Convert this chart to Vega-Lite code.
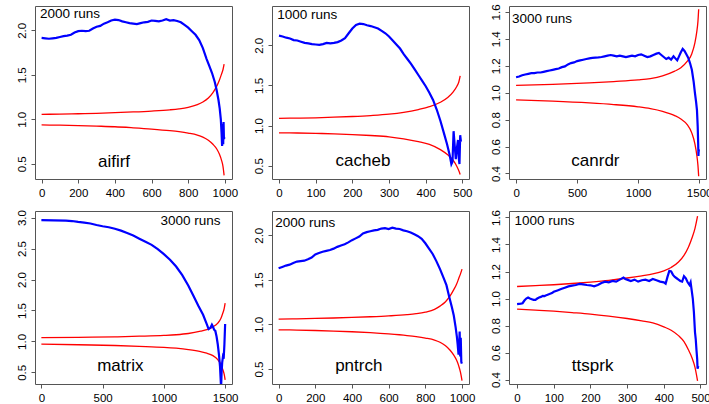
{
"$schema": "https://vega.github.io/schema/vega-lite/v6.json",
"background": "white",
"autosize": {"type": "pad"},
"padding": {"left": 15, "top": 3, "right": 0, "bottom": 0},
"config": {
  "view": {"stroke": "#555555", "strokeWidth": 1},
  "axis": {"grid": false, "domain": false, "tickColor": "#555555", "tickSize": 4, "labelFont": "Liberation Sans", "labelFontSize": 11.5, "labelColor": "#000000", "title": null, "labelOverlap": false, "labelFlush": false},
  "axisX": {"labelPadding": 4},
  "axisY": {"labelAngle": 270, "labelAlign": "center", "labelBaseline": "bottom", "labelPadding": 4}
},
"datasets": {
"lines": [
{"p":"aifirf","s":"obs","x":0,"y":1.915},{"p":"aifirf","s":"obs","x":20,"y":1.91},{"p":"aifirf","s":"obs","x":40,"y":1.905},{"p":"aifirf","s":"obs","x":60,"y":1.91},{"p":"aifirf","s":"obs","x":80,"y":1.915},{"p":"aifirf","s":"obs","x":100,"y":1.925},{"p":"aifirf","s":"obs","x":120,"y":1.935},{"p":"aifirf","s":"obs","x":140,"y":1.94},{"p":"aifirf","s":"obs","x":160,"y":1.95},{"p":"aifirf","s":"obs","x":180,"y":1.975},{"p":"aifirf","s":"obs","x":200,"y":1.99},{"p":"aifirf","s":"obs","x":220,"y":1.995},{"p":"aifirf","s":"obs","x":240,"y":1.99},{"p":"aifirf","s":"obs","x":260,"y":1.995},{"p":"aifirf","s":"obs","x":280,"y":2.02},{"p":"aifirf","s":"obs","x":300,"y":2.04},{"p":"aifirf","s":"obs","x":320,"y":2.05},{"p":"aifirf","s":"obs","x":340,"y":2.075},{"p":"aifirf","s":"obs","x":360,"y":2.09},{"p":"aifirf","s":"obs","x":380,"y":2.11},{"p":"aifirf","s":"obs","x":400,"y":2.12},{"p":"aifirf","s":"obs","x":420,"y":2.115},{"p":"aifirf","s":"obs","x":440,"y":2.1},{"p":"aifirf","s":"obs","x":460,"y":2.09},{"p":"aifirf","s":"obs","x":480,"y":2.08},{"p":"aifirf","s":"obs","x":500,"y":2.075},{"p":"aifirf","s":"obs","x":520,"y":2.07},{"p":"aifirf","s":"obs","x":540,"y":2.08},{"p":"aifirf","s":"obs","x":560,"y":2.09},{"p":"aifirf","s":"obs","x":580,"y":2.095},{"p":"aifirf","s":"obs","x":600,"y":2.11},{"p":"aifirf","s":"obs","x":620,"y":2.105},{"p":"aifirf","s":"obs","x":640,"y":2.1},{"p":"aifirf","s":"obs","x":660,"y":2.11},{"p":"aifirf","s":"obs","x":680,"y":2.125},{"p":"aifirf","s":"obs","x":700,"y":2.11},{"p":"aifirf","s":"obs","x":720,"y":2.115},{"p":"aifirf","s":"obs","x":740,"y":2.105},{"p":"aifirf","s":"obs","x":760,"y":2.09},{"p":"aifirf","s":"obs","x":780,"y":2.06},{"p":"aifirf","s":"obs","x":800,"y":2.03},{"p":"aifirf","s":"obs","x":820,"y":1.99},{"p":"aifirf","s":"obs","x":840,"y":1.95},{"p":"aifirf","s":"obs","x":860,"y":1.89},{"p":"aifirf","s":"obs","x":880,"y":1.8},{"p":"aifirf","s":"obs","x":900,"y":1.68},{"p":"aifirf","s":"obs","x":915,"y":1.6},{"p":"aifirf","s":"obs","x":930,"y":1.52},{"p":"aifirf","s":"obs","x":945,"y":1.42},{"p":"aifirf","s":"obs","x":955,"y":1.33},{"p":"aifirf","s":"obs","x":965,"y":1.22},{"p":"aifirf","s":"obs","x":972,"y":1.12},{"p":"aifirf","s":"obs","x":978,"y":1.0},{"p":"aifirf","s":"obs","x":982,"y":0.85},{"p":"aifirf","s":"obs","x":985,"y":0.7},{"p":"aifirf","s":"obs","x":987,"y":0.82},{"p":"aifirf","s":"obs","x":989,"y":0.95},{"p":"aifirf","s":"obs","x":991,"y":0.72},{"p":"aifirf","s":"obs","x":993,"y":0.97},{"p":"aifirf","s":"obs","x":995,"y":0.78},{"p":"aifirf","s":"obs","x":998,"y":0.8},
{"p":"aifirf","s":"up","x":0,"y":1.056},{"p":"aifirf","s":"up","x":100,"y":1.059},{"p":"aifirf","s":"up","x":200,"y":1.063},{"p":"aifirf","s":"up","x":300,"y":1.068},{"p":"aifirf","s":"up","x":400,"y":1.075},{"p":"aifirf","s":"up","x":500,"y":1.083},{"p":"aifirf","s":"up","x":600,"y":1.093},{"p":"aifirf","s":"up","x":700,"y":1.107},{"p":"aifirf","s":"up","x":750,"y":1.118},{"p":"aifirf","s":"up","x":800,"y":1.135},{"p":"aifirf","s":"up","x":850,"y":1.165},{"p":"aifirf","s":"up","x":880,"y":1.195},{"p":"aifirf","s":"up","x":910,"y":1.24},{"p":"aifirf","s":"up","x":935,"y":1.3},{"p":"aifirf","s":"up","x":955,"y":1.37},{"p":"aifirf","s":"up","x":970,"y":1.44},{"p":"aifirf","s":"up","x":982,"y":1.51},{"p":"aifirf","s":"up","x":990,"y":1.56},{"p":"aifirf","s":"up","x":996,"y":1.62},
{"p":"aifirf","s":"lo","x":0,"y":0.937},{"p":"aifirf","s":"lo","x":100,"y":0.934},{"p":"aifirf","s":"lo","x":200,"y":0.93},{"p":"aifirf","s":"lo","x":300,"y":0.924},{"p":"aifirf","s":"lo","x":400,"y":0.917},{"p":"aifirf","s":"lo","x":500,"y":0.905},{"p":"aifirf","s":"lo","x":600,"y":0.891},{"p":"aifirf","s":"lo","x":700,"y":0.873},{"p":"aifirf","s":"lo","x":750,"y":0.861},{"p":"aifirf","s":"lo","x":800,"y":0.845},{"p":"aifirf","s":"lo","x":850,"y":0.823},{"p":"aifirf","s":"lo","x":880,"y":0.8},{"p":"aifirf","s":"lo","x":910,"y":0.765},{"p":"aifirf","s":"lo","x":935,"y":0.72},{"p":"aifirf","s":"lo","x":955,"y":0.67},{"p":"aifirf","s":"lo","x":970,"y":0.61},{"p":"aifirf","s":"lo","x":982,"y":0.54},{"p":"aifirf","s":"lo","x":990,"y":0.47},{"p":"aifirf","s":"lo","x":996,"y":0.37},

{"p":"cacheb","s":"obs","x":0,"y":2.12},{"p":"cacheb","s":"obs","x":10,"y":2.11},{"p":"cacheb","s":"obs","x":20,"y":2.095},{"p":"cacheb","s":"obs","x":30,"y":2.085},{"p":"cacheb","s":"obs","x":40,"y":2.065},{"p":"cacheb","s":"obs","x":50,"y":2.06},{"p":"cacheb","s":"obs","x":60,"y":2.045},{"p":"cacheb","s":"obs","x":70,"y":2.03},{"p":"cacheb","s":"obs","x":80,"y":2.025},{"p":"cacheb","s":"obs","x":90,"y":2.015},{"p":"cacheb","s":"obs","x":100,"y":2.01},{"p":"cacheb","s":"obs","x":110,"y":2.005},{"p":"cacheb","s":"obs","x":120,"y":2.015},{"p":"cacheb","s":"obs","x":130,"y":2.03},{"p":"cacheb","s":"obs","x":140,"y":2.025},{"p":"cacheb","s":"obs","x":150,"y":2.03},{"p":"cacheb","s":"obs","x":160,"y":2.04},{"p":"cacheb","s":"obs","x":170,"y":2.06},{"p":"cacheb","s":"obs","x":180,"y":2.09},{"p":"cacheb","s":"obs","x":190,"y":2.15},{"p":"cacheb","s":"obs","x":200,"y":2.21},{"p":"cacheb","s":"obs","x":210,"y":2.255},{"p":"cacheb","s":"obs","x":220,"y":2.27},{"p":"cacheb","s":"obs","x":230,"y":2.265},{"p":"cacheb","s":"obs","x":240,"y":2.25},{"p":"cacheb","s":"obs","x":250,"y":2.24},{"p":"cacheb","s":"obs","x":260,"y":2.225},{"p":"cacheb","s":"obs","x":270,"y":2.21},{"p":"cacheb","s":"obs","x":280,"y":2.18},{"p":"cacheb","s":"obs","x":290,"y":2.15},{"p":"cacheb","s":"obs","x":300,"y":2.11},{"p":"cacheb","s":"obs","x":310,"y":2.06},{"p":"cacheb","s":"obs","x":320,"y":2.01},{"p":"cacheb","s":"obs","x":330,"y":1.96},{"p":"cacheb","s":"obs","x":340,"y":1.89},{"p":"cacheb","s":"obs","x":350,"y":1.83},{"p":"cacheb","s":"obs","x":360,"y":1.77},{"p":"cacheb","s":"obs","x":370,"y":1.7},{"p":"cacheb","s":"obs","x":380,"y":1.63},{"p":"cacheb","s":"obs","x":390,"y":1.56},{"p":"cacheb","s":"obs","x":400,"y":1.49},{"p":"cacheb","s":"obs","x":410,"y":1.41},{"p":"cacheb","s":"obs","x":420,"y":1.32},{"p":"cacheb","s":"obs","x":430,"y":1.2},{"p":"cacheb","s":"obs","x":440,"y":1.06},{"p":"cacheb","s":"obs","x":450,"y":0.9},{"p":"cacheb","s":"obs","x":458,"y":0.77},{"p":"cacheb","s":"obs","x":465,"y":0.64},{"p":"cacheb","s":"obs","x":470,"y":0.52},{"p":"cacheb","s":"obs","x":473,"y":0.55},{"p":"cacheb","s":"obs","x":476,"y":0.93},{"p":"cacheb","s":"obs","x":479,"y":0.75},{"p":"cacheb","s":"obs","x":482,"y":0.58},{"p":"cacheb","s":"obs","x":485,"y":0.72},{"p":"cacheb","s":"obs","x":488,"y":0.82},{"p":"cacheb","s":"obs","x":490,"y":0.6},{"p":"cacheb","s":"obs","x":492,"y":0.52},{"p":"cacheb","s":"obs","x":494,"y":0.88},{"p":"cacheb","s":"obs","x":496,"y":0.8},
{"p":"cacheb","s":"up","x":0,"y":1.09},{"p":"cacheb","s":"up","x":50,"y":1.093},{"p":"cacheb","s":"up","x":100,"y":1.097},{"p":"cacheb","s":"up","x":150,"y":1.104},{"p":"cacheb","s":"up","x":200,"y":1.113},{"p":"cacheb","s":"up","x":250,"y":1.125},{"p":"cacheb","s":"up","x":300,"y":1.142},{"p":"cacheb","s":"up","x":340,"y":1.165},{"p":"cacheb","s":"up","x":380,"y":1.2},{"p":"cacheb","s":"up","x":410,"y":1.235},{"p":"cacheb","s":"up","x":440,"y":1.29},{"p":"cacheb","s":"up","x":460,"y":1.35},{"p":"cacheb","s":"up","x":475,"y":1.42},{"p":"cacheb","s":"up","x":485,"y":1.49},{"p":"cacheb","s":"up","x":490,"y":1.54},{"p":"cacheb","s":"up","x":494,"y":1.62},
{"p":"cacheb","s":"lo","x":0,"y":0.91},{"p":"cacheb","s":"lo","x":50,"y":0.907},{"p":"cacheb","s":"lo","x":100,"y":0.903},{"p":"cacheb","s":"lo","x":150,"y":0.897},{"p":"cacheb","s":"lo","x":200,"y":0.888},{"p":"cacheb","s":"lo","x":250,"y":0.876},{"p":"cacheb","s":"lo","x":300,"y":0.86},{"p":"cacheb","s":"lo","x":340,"y":0.835},{"p":"cacheb","s":"lo","x":380,"y":0.8},{"p":"cacheb","s":"lo","x":410,"y":0.765},{"p":"cacheb","s":"lo","x":440,"y":0.7},{"p":"cacheb","s":"lo","x":460,"y":0.635},{"p":"cacheb","s":"lo","x":475,"y":0.565},{"p":"cacheb","s":"lo","x":485,"y":0.49},{"p":"cacheb","s":"lo","x":490,"y":0.44},{"p":"cacheb","s":"lo","x":494,"y":0.39},

{"p":"canrdr","s":"obs","x":0,"y":1.115},{"p":"canrdr","s":"obs","x":25,"y":1.12},{"p":"canrdr","s":"obs","x":50,"y":1.13},{"p":"canrdr","s":"obs","x":75,"y":1.135},{"p":"canrdr","s":"obs","x":100,"y":1.14},{"p":"canrdr","s":"obs","x":125,"y":1.145},{"p":"canrdr","s":"obs","x":150,"y":1.145},{"p":"canrdr","s":"obs","x":175,"y":1.15},{"p":"canrdr","s":"obs","x":200,"y":1.15},{"p":"canrdr","s":"obs","x":225,"y":1.155},{"p":"canrdr","s":"obs","x":250,"y":1.16},{"p":"canrdr","s":"obs","x":275,"y":1.165},{"p":"canrdr","s":"obs","x":300,"y":1.17},{"p":"canrdr","s":"obs","x":325,"y":1.175},{"p":"canrdr","s":"obs","x":350,"y":1.18},{"p":"canrdr","s":"obs","x":375,"y":1.19},{"p":"canrdr","s":"obs","x":400,"y":1.195},{"p":"canrdr","s":"obs","x":425,"y":1.21},{"p":"canrdr","s":"obs","x":450,"y":1.22},{"p":"canrdr","s":"obs","x":475,"y":1.225},{"p":"canrdr","s":"obs","x":500,"y":1.235},{"p":"canrdr","s":"obs","x":525,"y":1.24},{"p":"canrdr","s":"obs","x":550,"y":1.245},{"p":"canrdr","s":"obs","x":575,"y":1.25},{"p":"canrdr","s":"obs","x":600,"y":1.255},{"p":"canrdr","s":"obs","x":625,"y":1.258},{"p":"canrdr","s":"obs","x":650,"y":1.26},{"p":"canrdr","s":"obs","x":675,"y":1.262},{"p":"canrdr","s":"obs","x":700,"y":1.265},{"p":"canrdr","s":"obs","x":725,"y":1.27},{"p":"canrdr","s":"obs","x":750,"y":1.275},{"p":"canrdr","s":"obs","x":775,"y":1.28},{"p":"canrdr","s":"obs","x":800,"y":1.275},{"p":"canrdr","s":"obs","x":825,"y":1.27},{"p":"canrdr","s":"obs","x":850,"y":1.275},{"p":"canrdr","s":"obs","x":875,"y":1.27},{"p":"canrdr","s":"obs","x":900,"y":1.265},{"p":"canrdr","s":"obs","x":925,"y":1.27},{"p":"canrdr","s":"obs","x":950,"y":1.275},{"p":"canrdr","s":"obs","x":975,"y":1.27},{"p":"canrdr","s":"obs","x":1000,"y":1.28},{"p":"canrdr","s":"obs","x":1025,"y":1.285},{"p":"canrdr","s":"obs","x":1050,"y":1.275},{"p":"canrdr","s":"obs","x":1075,"y":1.265},{"p":"canrdr","s":"obs","x":1100,"y":1.27},{"p":"canrdr","s":"obs","x":1125,"y":1.28},{"p":"canrdr","s":"obs","x":1150,"y":1.29},{"p":"canrdr","s":"obs","x":1170,"y":1.295},{"p":"canrdr","s":"obs","x":1190,"y":1.28},{"p":"canrdr","s":"obs","x":1210,"y":1.265},{"p":"canrdr","s":"obs","x":1230,"y":1.25},{"p":"canrdr","s":"obs","x":1250,"y":1.26},{"p":"canrdr","s":"obs","x":1270,"y":1.245},{"p":"canrdr","s":"obs","x":1290,"y":1.27},{"p":"canrdr","s":"obs","x":1305,"y":1.255},{"p":"canrdr","s":"obs","x":1320,"y":1.24},{"p":"canrdr","s":"obs","x":1335,"y":1.27},{"p":"canrdr","s":"obs","x":1350,"y":1.3},{"p":"canrdr","s":"obs","x":1365,"y":1.325},{"p":"canrdr","s":"obs","x":1380,"y":1.31},{"p":"canrdr","s":"obs","x":1395,"y":1.285},{"p":"canrdr","s":"obs","x":1410,"y":1.26},{"p":"canrdr","s":"obs","x":1425,"y":1.22},{"p":"canrdr","s":"obs","x":1440,"y":1.17},{"p":"canrdr","s":"obs","x":1455,"y":1.08},{"p":"canrdr","s":"obs","x":1465,"y":1.0},{"p":"canrdr","s":"obs","x":1475,"y":0.93},{"p":"canrdr","s":"obs","x":1482,"y":0.87},{"p":"canrdr","s":"obs","x":1488,"y":0.75},{"p":"canrdr","s":"obs","x":1492,"y":0.62},{"p":"canrdr","s":"obs","x":1494,"y":0.53},{"p":"canrdr","s":"obs","x":1496,"y":0.58},{"p":"canrdr","s":"obs","x":1498,"y":0.56},
{"p":"canrdr","s":"up","x":0,"y":1.054},{"p":"canrdr","s":"up","x":300,"y":1.062},{"p":"canrdr","s":"up","x":600,"y":1.073},{"p":"canrdr","s":"up","x":800,"y":1.083},{"p":"canrdr","s":"up","x":1000,"y":1.095},{"p":"canrdr","s":"up","x":1100,"y":1.105},{"p":"canrdr","s":"up","x":1200,"y":1.125},{"p":"canrdr","s":"up","x":1300,"y":1.16},{"p":"canrdr","s":"up","x":1350,"y":1.185},{"p":"canrdr","s":"up","x":1400,"y":1.23},{"p":"canrdr","s":"up","x":1440,"y":1.29},{"p":"canrdr","s":"up","x":1465,"y":1.37},{"p":"canrdr","s":"up","x":1480,"y":1.45},{"p":"canrdr","s":"up","x":1490,"y":1.53},{"p":"canrdr","s":"up","x":1496,"y":1.62},
{"p":"canrdr","s":"lo","x":0,"y":0.946},{"p":"canrdr","s":"lo","x":300,"y":0.937},{"p":"canrdr","s":"lo","x":600,"y":0.924},{"p":"canrdr","s":"lo","x":800,"y":0.912},{"p":"canrdr","s":"lo","x":1000,"y":0.895},{"p":"canrdr","s":"lo","x":1100,"y":0.882},{"p":"canrdr","s":"lo","x":1200,"y":0.862},{"p":"canrdr","s":"lo","x":1300,"y":0.83},{"p":"canrdr","s":"lo","x":1350,"y":0.805},{"p":"canrdr","s":"lo","x":1400,"y":0.765},{"p":"canrdr","s":"lo","x":1440,"y":0.7},{"p":"canrdr","s":"lo","x":1465,"y":0.62},{"p":"canrdr","s":"lo","x":1480,"y":0.54},{"p":"canrdr","s":"lo","x":1490,"y":0.46},{"p":"canrdr","s":"lo","x":1496,"y":0.38},

{"p":"matrix","s":"obs","x":0,"y":2.96},{"p":"matrix","s":"obs","x":100,"y":2.955},{"p":"matrix","s":"obs","x":200,"y":2.95},{"p":"matrix","s":"obs","x":250,"y":2.945},{"p":"matrix","s":"obs","x":300,"y":2.93},{"p":"matrix","s":"obs","x":350,"y":2.92},{"p":"matrix","s":"obs","x":400,"y":2.905},{"p":"matrix","s":"obs","x":450,"y":2.88},{"p":"matrix","s":"obs","x":500,"y":2.86},{"p":"matrix","s":"obs","x":550,"y":2.845},{"p":"matrix","s":"obs","x":600,"y":2.82},{"p":"matrix","s":"obs","x":650,"y":2.79},{"p":"matrix","s":"obs","x":700,"y":2.75},{"p":"matrix","s":"obs","x":750,"y":2.71},{"p":"matrix","s":"obs","x":800,"y":2.66},{"p":"matrix","s":"obs","x":850,"y":2.61},{"p":"matrix","s":"obs","x":900,"y":2.56},{"p":"matrix","s":"obs","x":950,"y":2.49},{"p":"matrix","s":"obs","x":1000,"y":2.41},{"p":"matrix","s":"obs","x":1050,"y":2.32},{"p":"matrix","s":"obs","x":1100,"y":2.21},{"p":"matrix","s":"obs","x":1150,"y":2.07},{"p":"matrix","s":"obs","x":1200,"y":1.9},{"p":"matrix","s":"obs","x":1240,"y":1.74},{"p":"matrix","s":"obs","x":1280,"y":1.58},{"p":"matrix","s":"obs","x":1320,"y":1.43},{"p":"matrix","s":"obs","x":1350,"y":1.28},{"p":"matrix","s":"obs","x":1365,"y":1.2},{"p":"matrix","s":"obs","x":1380,"y":1.22},{"p":"matrix","s":"obs","x":1392,"y":1.27},{"p":"matrix","s":"obs","x":1400,"y":1.24},{"p":"matrix","s":"obs","x":1410,"y":1.19},{"p":"matrix","s":"obs","x":1420,"y":1.17},{"p":"matrix","s":"obs","x":1430,"y":1.08},{"p":"matrix","s":"obs","x":1440,"y":0.95},{"p":"matrix","s":"obs","x":1450,"y":0.78},{"p":"matrix","s":"obs","x":1458,"y":0.6},{"p":"matrix","s":"obs","x":1463,"y":0.4},{"p":"matrix","s":"obs","x":1467,"y":0.25},{"p":"matrix","s":"obs","x":1471,"y":0.5},{"p":"matrix","s":"obs","x":1476,"y":0.66},{"p":"matrix","s":"obs","x":1482,"y":0.75},{"p":"matrix","s":"obs","x":1488,"y":0.72},{"p":"matrix","s":"obs","x":1494,"y":0.95},{"p":"matrix","s":"obs","x":1500,"y":1.28},
{"p":"matrix","s":"up","x":0,"y":1.06},{"p":"matrix","s":"up","x":300,"y":1.065},{"p":"matrix","s":"up","x":600,"y":1.074},{"p":"matrix","s":"up","x":800,"y":1.084},{"p":"matrix","s":"up","x":1000,"y":1.097},{"p":"matrix","s":"up","x":1100,"y":1.108},{"p":"matrix","s":"up","x":1200,"y":1.128},{"p":"matrix","s":"up","x":1300,"y":1.165},{"p":"matrix","s":"up","x":1350,"y":1.19},{"p":"matrix","s":"up","x":1400,"y":1.235},{"p":"matrix","s":"up","x":1440,"y":1.295},{"p":"matrix","s":"up","x":1465,"y":1.37},{"p":"matrix","s":"up","x":1480,"y":1.45},{"p":"matrix","s":"up","x":1492,"y":1.53},{"p":"matrix","s":"up","x":1500,"y":1.62},
{"p":"matrix","s":"lo","x":0,"y":0.955},{"p":"matrix","s":"lo","x":300,"y":0.946},{"p":"matrix","s":"lo","x":600,"y":0.934},{"p":"matrix","s":"lo","x":800,"y":0.921},{"p":"matrix","s":"lo","x":1000,"y":0.905},{"p":"matrix","s":"lo","x":1100,"y":0.89},{"p":"matrix","s":"lo","x":1200,"y":0.868},{"p":"matrix","s":"lo","x":1300,"y":0.835},{"p":"matrix","s":"lo","x":1350,"y":0.81},{"p":"matrix","s":"lo","x":1400,"y":0.77},{"p":"matrix","s":"lo","x":1440,"y":0.705},{"p":"matrix","s":"lo","x":1465,"y":0.63},{"p":"matrix","s":"lo","x":1480,"y":0.55},{"p":"matrix","s":"lo","x":1492,"y":0.47},{"p":"matrix","s":"lo","x":1500,"y":0.38},

{"p":"pntrch","s":"obs","x":0,"y":1.63},{"p":"pntrch","s":"obs","x":20,"y":1.645},{"p":"pntrch","s":"obs","x":40,"y":1.66},{"p":"pntrch","s":"obs","x":60,"y":1.67},{"p":"pntrch","s":"obs","x":80,"y":1.69},{"p":"pntrch","s":"obs","x":100,"y":1.705},{"p":"pntrch","s":"obs","x":120,"y":1.71},{"p":"pntrch","s":"obs","x":140,"y":1.715},{"p":"pntrch","s":"obs","x":160,"y":1.73},{"p":"pntrch","s":"obs","x":180,"y":1.75},{"p":"pntrch","s":"obs","x":200,"y":1.785},{"p":"pntrch","s":"obs","x":220,"y":1.8},{"p":"pntrch","s":"obs","x":240,"y":1.815},{"p":"pntrch","s":"obs","x":260,"y":1.825},{"p":"pntrch","s":"obs","x":280,"y":1.835},{"p":"pntrch","s":"obs","x":300,"y":1.85},{"p":"pntrch","s":"obs","x":320,"y":1.87},{"p":"pntrch","s":"obs","x":340,"y":1.885},{"p":"pntrch","s":"obs","x":360,"y":1.9},{"p":"pntrch","s":"obs","x":380,"y":1.92},{"p":"pntrch","s":"obs","x":400,"y":1.945},{"p":"pntrch","s":"obs","x":420,"y":1.965},{"p":"pntrch","s":"obs","x":440,"y":1.985},{"p":"pntrch","s":"obs","x":460,"y":2.02},{"p":"pntrch","s":"obs","x":480,"y":2.035},{"p":"pntrch","s":"obs","x":500,"y":2.045},{"p":"pntrch","s":"obs","x":520,"y":2.055},{"p":"pntrch","s":"obs","x":540,"y":2.06},{"p":"pntrch","s":"obs","x":560,"y":2.075},{"p":"pntrch","s":"obs","x":580,"y":2.08},{"p":"pntrch","s":"obs","x":600,"y":2.07},{"p":"pntrch","s":"obs","x":620,"y":2.085},{"p":"pntrch","s":"obs","x":640,"y":2.075},{"p":"pntrch","s":"obs","x":660,"y":2.07},{"p":"pntrch","s":"obs","x":680,"y":2.055},{"p":"pntrch","s":"obs","x":700,"y":2.045},{"p":"pntrch","s":"obs","x":720,"y":2.03},{"p":"pntrch","s":"obs","x":740,"y":2.01},{"p":"pntrch","s":"obs","x":760,"y":1.99},{"p":"pntrch","s":"obs","x":780,"y":1.96},{"p":"pntrch","s":"obs","x":800,"y":1.91},{"p":"pntrch","s":"obs","x":820,"y":1.85},{"p":"pntrch","s":"obs","x":840,"y":1.79},{"p":"pntrch","s":"obs","x":860,"y":1.71},{"p":"pntrch","s":"obs","x":880,"y":1.62},{"p":"pntrch","s":"obs","x":900,"y":1.52},{"p":"pntrch","s":"obs","x":915,"y":1.44},{"p":"pntrch","s":"obs","x":930,"y":1.31},{"p":"pntrch","s":"obs","x":945,"y":1.19},{"p":"pntrch","s":"obs","x":955,"y":1.1},{"p":"pntrch","s":"obs","x":965,"y":0.97},{"p":"pntrch","s":"obs","x":972,"y":0.86},{"p":"pntrch","s":"obs","x":976,"y":0.78},{"p":"pntrch","s":"obs","x":981,"y":0.66},{"p":"pntrch","s":"obs","x":984,"y":0.73},{"p":"pntrch","s":"obs","x":987,"y":0.92},{"p":"pntrch","s":"obs","x":990,"y":0.64},{"p":"pntrch","s":"obs","x":993,"y":0.85},{"p":"pntrch","s":"obs","x":996,"y":0.58},{"p":"pntrch","s":"obs","x":999,"y":0.56},
{"p":"pntrch","s":"up","x":0,"y":1.06},{"p":"pntrch","s":"up","x":100,"y":1.063},{"p":"pntrch","s":"up","x":200,"y":1.067},{"p":"pntrch","s":"up","x":300,"y":1.072},{"p":"pntrch","s":"up","x":400,"y":1.078},{"p":"pntrch","s":"up","x":500,"y":1.086},{"p":"pntrch","s":"up","x":600,"y":1.096},{"p":"pntrch","s":"up","x":700,"y":1.11},{"p":"pntrch","s":"up","x":750,"y":1.121},{"p":"pntrch","s":"up","x":800,"y":1.138},{"p":"pntrch","s":"up","x":850,"y":1.168},{"p":"pntrch","s":"up","x":880,"y":1.205},{"p":"pntrch","s":"up","x":910,"y":1.255},{"p":"pntrch","s":"up","x":935,"y":1.32},{"p":"pntrch","s":"up","x":955,"y":1.39},{"p":"pntrch","s":"up","x":970,"y":1.45},{"p":"pntrch","s":"up","x":982,"y":1.515},{"p":"pntrch","s":"up","x":992,"y":1.57},{"p":"pntrch","s":"up","x":1000,"y":1.62},
{"p":"pntrch","s":"lo","x":0,"y":0.94},{"p":"pntrch","s":"lo","x":100,"y":0.937},{"p":"pntrch","s":"lo","x":200,"y":0.932},{"p":"pntrch","s":"lo","x":300,"y":0.926},{"p":"pntrch","s":"lo","x":400,"y":0.918},{"p":"pntrch","s":"lo","x":500,"y":0.907},{"p":"pntrch","s":"lo","x":600,"y":0.893},{"p":"pntrch","s":"lo","x":700,"y":0.875},{"p":"pntrch","s":"lo","x":750,"y":0.863},{"p":"pntrch","s":"lo","x":800,"y":0.847},{"p":"pntrch","s":"lo","x":850,"y":0.825},{"p":"pntrch","s":"lo","x":880,"y":0.8},{"p":"pntrch","s":"lo","x":910,"y":0.76},{"p":"pntrch","s":"lo","x":935,"y":0.71},{"p":"pntrch","s":"lo","x":955,"y":0.655},{"p":"pntrch","s":"lo","x":970,"y":0.6},{"p":"pntrch","s":"lo","x":982,"y":0.535},{"p":"pntrch","s":"lo","x":992,"y":0.46},{"p":"pntrch","s":"lo","x":1000,"y":0.37},

{"p":"ttsprk","s":"obs","x":0,"y":0.958},{"p":"ttsprk","s":"obs","x":5,"y":0.96},{"p":"ttsprk","s":"obs","x":10,"y":0.962},{"p":"ttsprk","s":"obs","x":15,"y":0.965},{"p":"ttsprk","s":"obs","x":20,"y":0.985},{"p":"ttsprk","s":"obs","x":25,"y":1.0},{"p":"ttsprk","s":"obs","x":30,"y":1.007},{"p":"ttsprk","s":"obs","x":35,"y":1.0},{"p":"ttsprk","s":"obs","x":40,"y":0.995},{"p":"ttsprk","s":"obs","x":45,"y":0.99},{"p":"ttsprk","s":"obs","x":50,"y":0.99},{"p":"ttsprk","s":"obs","x":55,"y":1.0},{"p":"ttsprk","s":"obs","x":60,"y":1.008},{"p":"ttsprk","s":"obs","x":65,"y":1.012},{"p":"ttsprk","s":"obs","x":70,"y":1.02},{"p":"ttsprk","s":"obs","x":75,"y":1.018},{"p":"ttsprk","s":"obs","x":80,"y":1.025},{"p":"ttsprk","s":"obs","x":85,"y":1.03},{"p":"ttsprk","s":"obs","x":90,"y":1.035},{"p":"ttsprk","s":"obs","x":95,"y":1.04},{"p":"ttsprk","s":"obs","x":100,"y":1.05},{"p":"ttsprk","s":"obs","x":110,"y":1.06},{"p":"ttsprk","s":"obs","x":120,"y":1.07},{"p":"ttsprk","s":"obs","x":130,"y":1.08},{"p":"ttsprk","s":"obs","x":140,"y":1.09},{"p":"ttsprk","s":"obs","x":150,"y":1.095},{"p":"ttsprk","s":"obs","x":160,"y":1.1},{"p":"ttsprk","s":"obs","x":170,"y":1.108},{"p":"ttsprk","s":"obs","x":180,"y":1.105},{"p":"ttsprk","s":"obs","x":190,"y":1.1},{"p":"ttsprk","s":"obs","x":200,"y":1.098},{"p":"ttsprk","s":"obs","x":210,"y":1.09},{"p":"ttsprk","s":"obs","x":220,"y":1.1},{"p":"ttsprk","s":"obs","x":230,"y":1.115},{"p":"ttsprk","s":"obs","x":240,"y":1.125},{"p":"ttsprk","s":"obs","x":250,"y":1.12},{"p":"ttsprk","s":"obs","x":260,"y":1.13},{"p":"ttsprk","s":"obs","x":270,"y":1.125},{"p":"ttsprk","s":"obs","x":280,"y":1.14},{"p":"ttsprk","s":"obs","x":290,"y":1.155},{"p":"ttsprk","s":"obs","x":295,"y":1.145},{"p":"ttsprk","s":"obs","x":300,"y":1.14},{"p":"ttsprk","s":"obs","x":310,"y":1.13},{"p":"ttsprk","s":"obs","x":320,"y":1.14},{"p":"ttsprk","s":"obs","x":330,"y":1.125},{"p":"ttsprk","s":"obs","x":340,"y":1.135},{"p":"ttsprk","s":"obs","x":350,"y":1.14},{"p":"ttsprk","s":"obs","x":360,"y":1.13},{"p":"ttsprk","s":"obs","x":370,"y":1.145},{"p":"ttsprk","s":"obs","x":380,"y":1.135},{"p":"ttsprk","s":"obs","x":390,"y":1.125},{"p":"ttsprk","s":"obs","x":400,"y":1.12},{"p":"ttsprk","s":"obs","x":405,"y":1.11},{"p":"ttsprk","s":"obs","x":410,"y":1.16},{"p":"ttsprk","s":"obs","x":415,"y":1.205},{"p":"ttsprk","s":"obs","x":420,"y":1.2},{"p":"ttsprk","s":"obs","x":425,"y":1.175},{"p":"ttsprk","s":"obs","x":430,"y":1.16},{"p":"ttsprk","s":"obs","x":435,"y":1.15},{"p":"ttsprk","s":"obs","x":440,"y":1.14},{"p":"ttsprk","s":"obs","x":445,"y":1.13},{"p":"ttsprk","s":"obs","x":450,"y":1.125},{"p":"ttsprk","s":"obs","x":455,"y":1.165},{"p":"ttsprk","s":"obs","x":460,"y":1.15},{"p":"ttsprk","s":"obs","x":465,"y":1.12},{"p":"ttsprk","s":"obs","x":470,"y":1.1},{"p":"ttsprk","s":"obs","x":473,"y":1.12},{"p":"ttsprk","s":"obs","x":476,"y":1.06},{"p":"ttsprk","s":"obs","x":479,"y":1.0},{"p":"ttsprk","s":"obs","x":482,"y":0.9},{"p":"ttsprk","s":"obs","x":485,"y":0.75},{"p":"ttsprk","s":"obs","x":487,"y":0.7},{"p":"ttsprk","s":"obs","x":489,"y":0.62},{"p":"ttsprk","s":"obs","x":491,"y":0.55},{"p":"ttsprk","s":"obs","x":492,"y":0.48},{"p":"ttsprk","s":"obs","x":494,"y":0.5},
{"p":"ttsprk","s":"up","x":0,"y":1.089},{"p":"ttsprk","s":"up","x":50,"y":1.095},{"p":"ttsprk","s":"up","x":100,"y":1.102},{"p":"ttsprk","s":"up","x":150,"y":1.111},{"p":"ttsprk","s":"up","x":200,"y":1.122},{"p":"ttsprk","s":"up","x":250,"y":1.135},{"p":"ttsprk","s":"up","x":300,"y":1.152},{"p":"ttsprk","s":"up","x":340,"y":1.168},{"p":"ttsprk","s":"up","x":370,"y":1.182},{"p":"ttsprk","s":"up","x":400,"y":1.205},{"p":"ttsprk","s":"up","x":420,"y":1.23},{"p":"ttsprk","s":"up","x":440,"y":1.27},{"p":"ttsprk","s":"up","x":455,"y":1.32},{"p":"ttsprk","s":"up","x":467,"y":1.38},{"p":"ttsprk","s":"up","x":477,"y":1.45},{"p":"ttsprk","s":"up","x":485,"y":1.52},{"p":"ttsprk","s":"up","x":492,"y":1.61},
{"p":"ttsprk","s":"lo","x":0,"y":0.921},{"p":"ttsprk","s":"lo","x":50,"y":0.914},{"p":"ttsprk","s":"lo","x":100,"y":0.906},{"p":"ttsprk","s":"lo","x":150,"y":0.896},{"p":"ttsprk","s":"lo","x":200,"y":0.885},{"p":"ttsprk","s":"lo","x":250,"y":0.87},{"p":"ttsprk","s":"lo","x":300,"y":0.852},{"p":"ttsprk","s":"lo","x":340,"y":0.835},{"p":"ttsprk","s":"lo","x":370,"y":0.82},{"p":"ttsprk","s":"lo","x":400,"y":0.79},{"p":"ttsprk","s":"lo","x":420,"y":0.765},{"p":"ttsprk","s":"lo","x":440,"y":0.725},{"p":"ttsprk","s":"lo","x":455,"y":0.68},{"p":"ttsprk","s":"lo","x":467,"y":0.62},{"p":"ttsprk","s":"lo","x":477,"y":0.56},{"p":"ttsprk","s":"lo","x":485,"y":0.49},{"p":"ttsprk","s":"lo","x":492,"y":0.39}
],
"labels": [
{"p":"aifirf","k":"runs","t":"2000 runs","x":-9,"y":2.135},{"p":"aifirf","k":"name","t":"aifirf","x":395,"y":0.468},
{"p":"cacheb","k":"runs","t":"1000 runs","x":-5,"y":2.324},{"p":"cacheb","k":"name","t":"cacheb","x":229,"y":0.496},
{"p":"canrdr","k":"runs","t":"3000 runs","x":-33,"y":1.52},{"p":"canrdr","k":"name","t":"canrdr","x":650,"y":0.455},
{"p":"matrix","k":"runs","t":"3000 runs","x":973,"y":2.88},{"p":"matrix","k":"name","t":"matrix","x":644,"y":0.527},
{"p":"pntrch","k":"runs","t":"2000 runs","x":-18,"y":2.093},{"p":"pntrch","k":"name","t":"pntrch","x":437,"y":0.481},
{"p":"ttsprk","k":"runs","t":"1000 runs","x":-7,"y":1.544},{"p":"ttsprk","k":"name","t":"ttsprk","x":206,"y":0.466}
]
},
"columns": 3,
"spacing": {"row": 32, "column": 40},
"bounds": "flush",
"concat": [
 {"width": 197, "height": 173,
  "encoding": {"x": {"field": "x", "type": "quantitative", "scale": {"domain": [-36, 1039], "nice": false, "zero": false}, "axis": {"values": [0,200,400,600,800,1000], "format": "d"}},
               "y": {"field": "y", "type": "quantitative", "scale": {"domain": [0.33, 2.273], "nice": false, "zero": false}, "axis": {"values": [0.5,1,1.5,2], "format": ".1f"}}},
  "layer": [
   {"data": {"name": "lines"}, "transform": [{"filter": "datum.p == 'aifirf' && datum.s != 'obs'"}], "mark": {"type": "line", "color": "#ff0000", "strokeWidth": 1.3, "clip": true, "interpolate": "monotone"}, "encoding": {"detail": {"field": "s"}}},
   {"data": {"name": "lines"}, "transform": [{"filter": "datum.p == 'aifirf' && datum.s == 'obs'"}], "mark": {"type": "line", "color": "#0000ff", "strokeWidth": 2.2, "clip": true}},
   {"data": {"name": "labels"}, "transform": [{"filter": "datum.p == 'aifirf' && datum.k == 'runs'"}], "mark": {"type": "text", "font": "Liberation Sans", "fontSize": 13.5, "align": "left", "baseline": "alphabetic", "color": "#000000"}, "encoding": {"text": {"field": "t"}}},
   {"data": {"name": "labels"}, "transform": [{"filter": "datum.p == 'aifirf' && datum.k == 'name'"}], "mark": {"type": "text", "font": "Liberation Sans", "fontSize": 17, "align": "center", "baseline": "alphabetic", "color": "#000000"}, "encoding": {"text": {"field": "t"}}}
  ]},
 {"width": 197, "height": 173,
  "encoding": {"x": {"field": "x", "type": "quantitative", "scale": {"domain": [-19, 518], "nice": false, "zero": false}, "axis": {"values": [0,100,200,300,400,500], "format": "d"}},
               "y": {"field": "y", "type": "quantitative", "scale": {"domain": [0.334, 2.49], "nice": false, "zero": false}, "axis": {"values": [0.5,1,1.5,2], "format": ".1f"}}},
  "layer": [
   {"data": {"name": "lines"}, "transform": [{"filter": "datum.p == 'cacheb' && datum.s != 'obs'"}], "mark": {"type": "line", "color": "#ff0000", "strokeWidth": 1.3, "clip": true, "interpolate": "monotone"}, "encoding": {"detail": {"field": "s"}}},
   {"data": {"name": "lines"}, "transform": [{"filter": "datum.p == 'cacheb' && datum.s == 'obs'"}], "mark": {"type": "line", "color": "#0000ff", "strokeWidth": 2.2, "clip": true}},
   {"data": {"name": "labels"}, "transform": [{"filter": "datum.p == 'cacheb' && datum.k == 'runs'"}], "mark": {"type": "text", "font": "Liberation Sans", "fontSize": 13.5, "align": "left", "baseline": "alphabetic", "color": "#000000"}, "encoding": {"text": {"field": "t"}}},
   {"data": {"name": "labels"}, "transform": [{"filter": "datum.p == 'cacheb' && datum.k == 'name'"}], "mark": {"type": "text", "font": "Liberation Sans", "fontSize": 17, "align": "center", "baseline": "alphabetic", "color": "#000000"}, "encoding": {"text": {"field": "t"}}}
  ]},
 {"width": 197, "height": 173,
  "encoding": {"x": {"field": "x", "type": "quantitative", "scale": {"domain": [-58, 1556], "nice": false, "zero": false}, "axis": {"values": [0,500,1000,1500], "format": "d"}},
               "y": {"field": "y", "type": "quantitative", "scale": {"domain": [0.359, 1.644], "nice": false, "zero": false}, "axis": {"values": [0.4,0.6,0.8,1,1.2,1.4,1.6], "format": ".1f"}}},
  "layer": [
   {"data": {"name": "lines"}, "transform": [{"filter": "datum.p == 'canrdr' && datum.s != 'obs'"}], "mark": {"type": "line", "color": "#ff0000", "strokeWidth": 1.3, "clip": true, "interpolate": "monotone"}, "encoding": {"detail": {"field": "s"}}},
   {"data": {"name": "lines"}, "transform": [{"filter": "datum.p == 'canrdr' && datum.s == 'obs'"}], "mark": {"type": "line", "color": "#0000ff", "strokeWidth": 2.2, "clip": true}},
   {"data": {"name": "labels"}, "transform": [{"filter": "datum.p == 'canrdr' && datum.k == 'runs'"}], "mark": {"type": "text", "font": "Liberation Sans", "fontSize": 13.5, "align": "left", "baseline": "alphabetic", "color": "#000000"}, "encoding": {"text": {"field": "t"}}},
   {"data": {"name": "labels"}, "transform": [{"filter": "datum.p == 'canrdr' && datum.k == 'name'"}], "mark": {"type": "text", "font": "Liberation Sans", "fontSize": 17, "align": "center", "baseline": "alphabetic", "color": "#000000"}, "encoding": {"text": {"field": "t"}}}
  ]},
 {"width": 197, "height": 173,
  "encoding": {"x": {"field": "x", "type": "quantitative", "scale": {"domain": [-52, 1556], "nice": false, "zero": false}, "axis": {"values": [0,500,1000,1500], "format": "d"}},
               "y": {"field": "y", "type": "quantitative", "scale": {"domain": [0.312, 3.107], "nice": false, "zero": false}, "axis": {"values": [0.5,1,1.5,2,2.5,3], "format": ".1f"}}},
  "layer": [
   {"data": {"name": "lines"}, "transform": [{"filter": "datum.p == 'matrix' && datum.s != 'obs'"}], "mark": {"type": "line", "color": "#ff0000", "strokeWidth": 1.3, "clip": true, "interpolate": "monotone"}, "encoding": {"detail": {"field": "s"}}},
   {"data": {"name": "lines"}, "transform": [{"filter": "datum.p == 'matrix' && datum.s == 'obs'"}], "mark": {"type": "line", "color": "#0000ff", "strokeWidth": 2.2, "clip": true}},
   {"data": {"name": "labels"}, "transform": [{"filter": "datum.p == 'matrix' && datum.k == 'runs'"}], "mark": {"type": "text", "font": "Liberation Sans", "fontSize": 13.5, "align": "left", "baseline": "alphabetic", "color": "#000000"}, "encoding": {"text": {"field": "t"}}},
   {"data": {"name": "labels"}, "transform": [{"filter": "datum.p == 'matrix' && datum.k == 'name'"}], "mark": {"type": "text", "font": "Liberation Sans", "fontSize": 17, "align": "center", "baseline": "alphabetic", "color": "#000000"}, "encoding": {"text": {"field": "t"}}}
  ]},
 {"width": 197, "height": 173,
  "encoding": {"x": {"field": "x", "type": "quantitative", "scale": {"domain": [-36, 1038], "nice": false, "zero": false}, "axis": {"values": [0,200,400,600,800,1000], "format": "d"}},
               "y": {"field": "y", "type": "quantitative", "scale": {"domain": [0.332, 2.272], "nice": false, "zero": false}, "axis": {"values": [0.5,1,1.5,2], "format": ".1f"}}},
  "layer": [
   {"data": {"name": "lines"}, "transform": [{"filter": "datum.p == 'pntrch' && datum.s != 'obs'"}], "mark": {"type": "line", "color": "#ff0000", "strokeWidth": 1.3, "clip": true, "interpolate": "monotone"}, "encoding": {"detail": {"field": "s"}}},
   {"data": {"name": "lines"}, "transform": [{"filter": "datum.p == 'pntrch' && datum.s == 'obs'"}], "mark": {"type": "line", "color": "#0000ff", "strokeWidth": 2.2, "clip": true}},
   {"data": {"name": "labels"}, "transform": [{"filter": "datum.p == 'pntrch' && datum.k == 'runs'"}], "mark": {"type": "text", "font": "Liberation Sans", "fontSize": 13.5, "align": "left", "baseline": "alphabetic", "color": "#000000"}, "encoding": {"text": {"field": "t"}}},
   {"data": {"name": "labels"}, "transform": [{"filter": "datum.p == 'pntrch' && datum.k == 'name'"}], "mark": {"type": "text", "font": "Liberation Sans", "fontSize": 17, "align": "center", "baseline": "alphabetic", "color": "#000000"}, "encoding": {"text": {"field": "t"}}}
  ]},
 {"width": 197, "height": 173,
  "encoding": {"x": {"field": "x", "type": "quantitative", "scale": {"domain": [-22, 515], "nice": false, "zero": false}, "axis": {"values": [0,100,200,300,400,500], "format": "d"}},
               "y": {"field": "y", "type": "quantitative", "scale": {"domain": [0.367, 1.648], "nice": false, "zero": false}, "axis": {"values": [0.4,0.6,0.8,1,1.2,1.4,1.6], "format": ".1f"}}},
  "layer": [
   {"data": {"name": "lines"}, "transform": [{"filter": "datum.p == 'ttsprk' && datum.s != 'obs'"}], "mark": {"type": "line", "color": "#ff0000", "strokeWidth": 1.3, "clip": true, "interpolate": "monotone"}, "encoding": {"detail": {"field": "s"}}},
   {"data": {"name": "lines"}, "transform": [{"filter": "datum.p == 'ttsprk' && datum.s == 'obs'"}], "mark": {"type": "line", "color": "#0000ff", "strokeWidth": 2.2, "clip": true}},
   {"data": {"name": "labels"}, "transform": [{"filter": "datum.p == 'ttsprk' && datum.k == 'runs'"}], "mark": {"type": "text", "font": "Liberation Sans", "fontSize": 13.5, "align": "left", "baseline": "alphabetic", "color": "#000000"}, "encoding": {"text": {"field": "t"}}},
   {"data": {"name": "labels"}, "transform": [{"filter": "datum.p == 'ttsprk' && datum.k == 'name'"}], "mark": {"type": "text", "font": "Liberation Sans", "fontSize": 17, "align": "center", "baseline": "alphabetic", "color": "#000000"}, "encoding": {"text": {"field": "t"}}}
  ]}
]
}
